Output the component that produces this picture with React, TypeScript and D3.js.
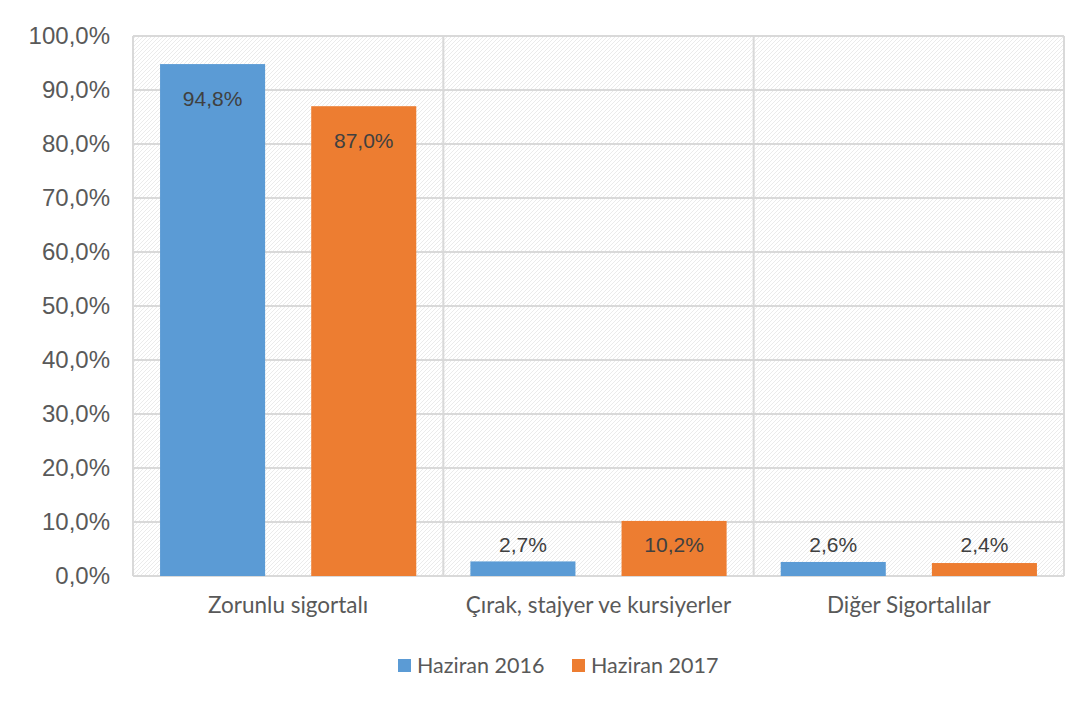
import React from "react";
import * as d3 from "d3";

const categories = ["Zorunlu sigortalı", "Çırak, stajyer ve kursiyerler", "Diğer Sigortalılar"];
const seriesNames = ["Haziran 2016", "Haziran 2017"];
const values2016 = [94.8, 2.7, 2.6];
const values2017 = [87.0, 10.2, 2.4];
const yTicks = [0, 10, 20, 30, 40, 50, 60, 70, 80, 90, 100];
const colors = ["#5b9bd5", "#ed7d31"];

const W = 1089;
const H = 711;
const margin = { left: 133, right: 25, top: 36, bottom: 135 };

const fmt = (v: number) => v.toFixed(1).replace(".", ",") + "%";

export default function App() {
  const x = d3
    .scaleBand<string>()
    .domain(categories)
    .range([margin.left, W - margin.right]);
  const inner = d3
    .scaleBand<string>()
    .domain(seriesNames)
    .range([0, x.bandwidth()])
    .paddingInner(0.305)
    .paddingOuter(0.179);
  const y = d3
    .scaleLinear()
    .domain([0, 100])
    .range([H - margin.bottom, margin.top]);

  const series = [values2016, values2017];

  return (
    <div style={{ margin: "-8px" }}>
      <svg width={W} height={H} style={{ display: "block" }}>
        <defs>
          <pattern id="hatch" width="4" height="4" patternUnits="userSpaceOnUse">
            <rect width="4" height="4" fill="#ffffff" />
            <path d="M0,4 L4,0 M-1,1 L1,-1 M3,5 L5,3" stroke="#ebebeb" strokeWidth="1" />
          </pattern>
        </defs>
        <rect x={7.5} y={2.5} width={W - 10} height={H - 4} fill="#fff" stroke="#d9d9d9" strokeWidth={1} />
        <rect
          x={margin.left}
          y={margin.top}
          width={W - margin.left - margin.right}
          height={H - margin.top - margin.bottom}
          fill="url(#hatch)"
        />
        {yTicks.map((t) => (
          <g key={t}>
            <line
              x1={margin.left}
              x2={W - margin.right}
              y1={y(t)}
              y2={y(t)}
              stroke="#d9d9d9"
              strokeWidth={2}
            />
            <text
              x={110}
              y={y(t)}
              dy="0.35em"
              textAnchor="end"
              fontFamily="Liberation Sans, Arial, sans-serif"
              fontSize={24}
              fill="#595959"
            >
              {fmt(t)}
            </text>
          </g>
        ))}
        {[...categories.map((c) => x(c) as number), W - margin.right].map((xv, i) => (
          <line key={i} x1={xv} x2={xv} y1={margin.top} y2={H - margin.bottom} stroke="#d9d9d9" strokeWidth={2} />
        ))}
        {categories.map((c, ci) =>
          series.map((vals, si) => {
            const bx = (x(c) as number) + (inner(seriesNames[si]) as number);
            const bw = inner.bandwidth();
            const v = vals[ci];
            return (
              <g key={c + si}>
                <rect x={bx} y={y(v)} width={bw} height={y(0) - y(v)} fill={colors[si]} />
                <text
                  x={bx + bw / 2}
                  y={Math.min(y(v) + 42, y(0) - 24)}
                  textAnchor="middle"
                  fontFamily="Liberation Sans, Arial, sans-serif"
                  fontSize={21}
                  fill="#404040"
                >
                  {fmt(v)}
                </text>
              </g>
            );
          })
        )}
        {categories.map((c) => (
          <text
            key={c}
            x={(x(c) as number) + x.bandwidth() / 2}
            y={613}
            textAnchor="middle"
            fontFamily="Lato, Open Sans, sans-serif"
            fontSize={22.5}
            fill="#595959"
          >
            {c}
          </text>
        ))}
        {seriesNames.map((s, i) => {
          const lx = i === 0 ? 398 : 572;
          return (
            <g key={s}>
              <rect x={lx} y={659} width={13} height={13} fill={colors[i]} />
              <text x={lx + 19} y={673} fontFamily="Lato, Open Sans, sans-serif" fontSize={21.5} fill="#595959">
                {s}
              </text>
            </g>
          );
        })}
      </svg>
    </div>
  );
}
